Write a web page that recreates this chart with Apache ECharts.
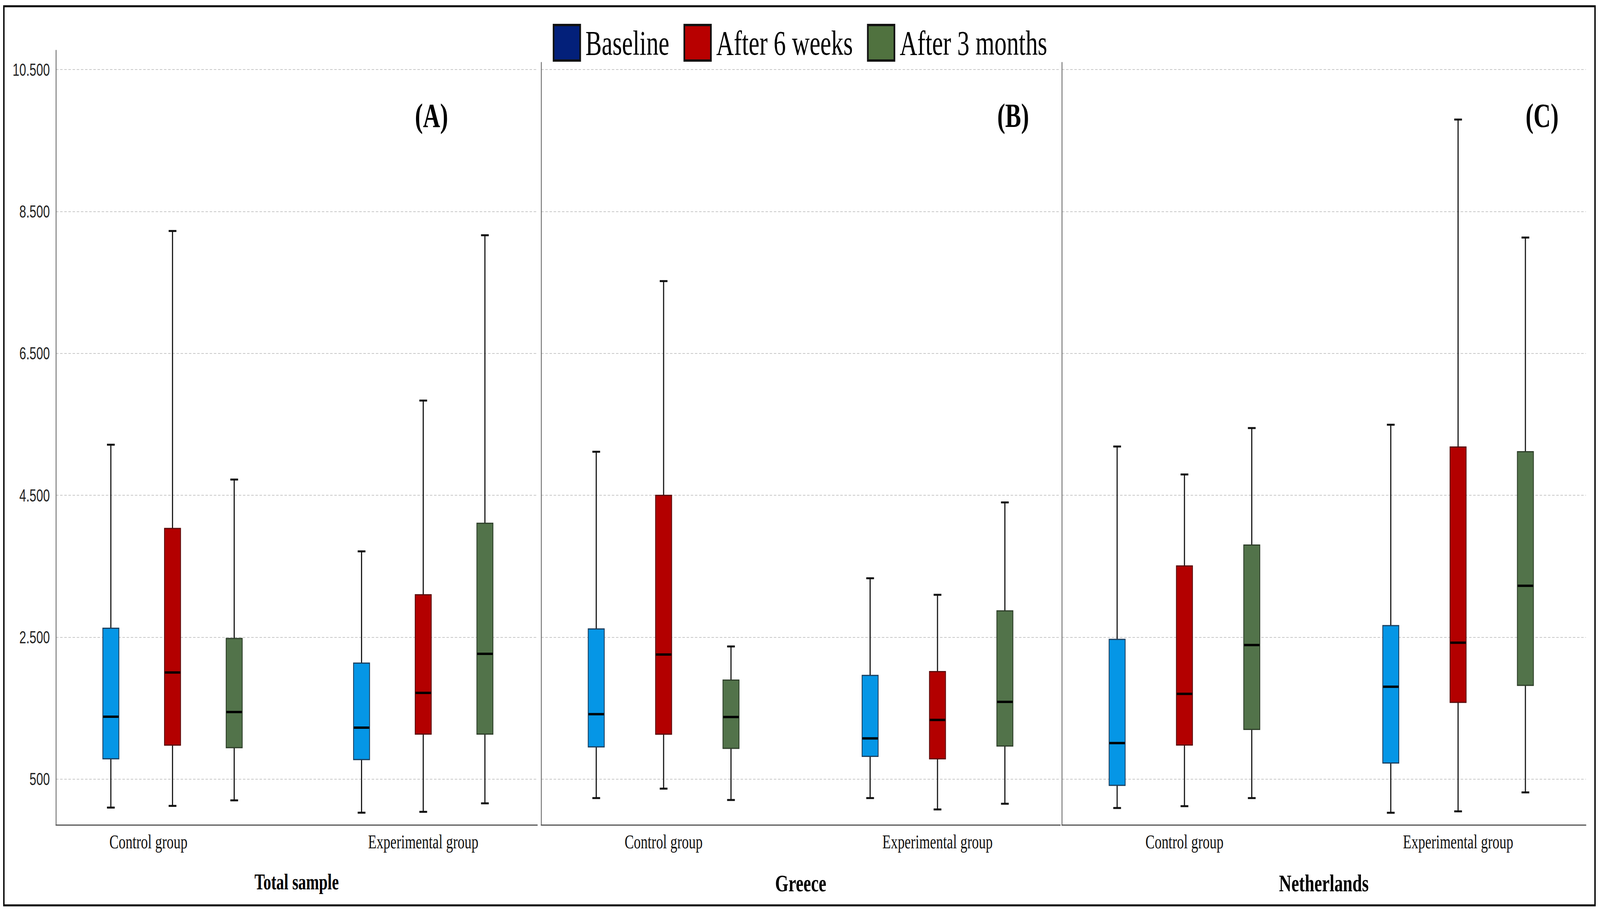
<!DOCTYPE html>
<html><head><meta charset="utf-8">
<script src="https://cdn.jsdelivr.net/npm/echarts@6/dist/echarts.min.js"></script>
<style>html,body{margin:0;padding:0;background:#fff;overflow:hidden}#c{position:absolute;left:0;top:0;width:5777px;height:2335px;transform-origin:0 0}</style>
</head><body><div id="c"></div>
<script>
const groups = ['Control group', 'Experimental group'];
const timePoints = ['Baseline', 'After 6 weeks', 'After 3 months'];
const panelTitles = ['Total sample', 'Greece', 'Netherlands'];
const panelTags = ['(A)', '(B)', '(C)'];
const yTicks = [500, 2500, 4500, 6500, 8500, 10500];
// each entry: [min, Q1, median, Q3, max] for Control group, Experimental group
const totalBaseline = [[99, 787, 1380, 2626, 5213], [27, 775, 1225, 2135, 3710]];
const total6Weeks   = [[123, 979, 2003, 4033, 8225], [39, 1135, 1716, 3099, 5835]];
const total3Months  = [[201, 943, 1446, 2482, 4722], [159, 1135, 2266, 4105, 8165]];
const greeceBaseline = [[233, 954, 1415, 2617, 5114], [233, 821, 1074, 1962, 3331]];
const greece6Weeks   = [[366, 1134, 2256, 4500, 7519], [73, 787, 1335, 2016, 3098]];
const greece3Months  = [[206, 934, 1375, 1896, 2370], [153, 967, 1589, 2871, 4400]];
const nlBaseline = [[93, 413, 1008, 2470, 5188], [26, 727, 1802, 2664, 5495]];
const nl6Weeks   = [[119, 981, 1702, 3505, 4794], [46, 1582, 2423, 5181, 9796]];
const nl3Months  = [[233, 1201, 2390, 3799, 5448], [313, 1822, 3225, 5114, 8133]];

const panelData = [
  [totalBaseline, total6Weeks, total3Months],
  [greeceBaseline, greece6Weeks, greece3Months],
  [nlBaseline, nl6Weeks, nl3Months]
];
const layout = [
  {left: 202, top: 129, width: 1738, height: 1983, xMin: -0.465, xMax: 1.455, yMax: 10770, tagX: 1558},
  {left: 1954, top: 160, width: 1874, height: 1952, xMin: -0.447, xMax: 1.448, yMax: 10600, tagX: 3658},
  {left: 3834, top: 160, width: 1892, height: 1952, xMin: -0.448, xMax: 1.467, yMax: 10600, tagX: 5568}
];
const legendColors = ['#03207a', '#b80000', '#50723f'];
const boxColors = ['#0596e6', '#b30000', '#52734a'];
const boxBorders = ['#1d3f5e', '#5a0a0a', '#2e3f2a'];
const OFF = [-0.246, 0, 0.246];
const BOXW = 58, CAPW = 28;
const W = 5777, H = 2335;

function fmt(v) {
  return String(v).replace(/\B(?=(\d{3})+(?!\d))/g, '.');
}

function makeRender(k) {
  return function (params, api) {
    const g = api.value(0);
    const xc = api.coord([g + OFF[k], api.value(3)])[0];
    const yLow = api.coord([g, api.value(1)])[1];
    const yQ1 = api.coord([g, api.value(2)])[1];
    const yMed = api.coord([g, api.value(3)])[1];
    const yQ3 = api.coord([g, api.value(4)])[1];
    const yHigh = api.coord([g, api.value(5)])[1];
    const ls = {stroke: '#111', lineWidth: 4};
    return {
      type: 'group',
      children: [
        {type: 'line', shape: {x1: xc, y1: yHigh, x2: xc, y2: yLow}, style: ls},
        {type: 'rect', shape: {x: xc - BOXW / 2, y: yQ3, width: BOXW, height: yQ1 - yQ3},
          style: {fill: boxColors[k], stroke: boxBorders[k], lineWidth: 3}},
        {type: 'line', shape: {x1: xc - BOXW / 2 + 1, y1: yMed, x2: xc + BOXW / 2 - 1, y2: yMed},
          style: {stroke: '#000', lineWidth: 6}},
        {type: 'line', shape: {x1: xc - CAPW / 2, y1: yHigh, x2: xc + CAPW / 2, y2: yHigh},
          style: {stroke: '#111', lineWidth: 5}},
        {type: 'line', shape: {x1: xc - CAPW / 2, y1: yLow, x2: xc + CAPW / 2, y2: yLow},
          style: {stroke: '#111', lineWidth: 5}}
      ]
    };
  };
}

const grids = [], xAxes = [], yAxes = [], series = [], graphics = [];
layout.forEach(function (L, p) {
  grids.push({left: L.left, top: L.top, width: L.width, height: L.height, containLabel: false});
  xAxes.push({
    gridIndex: p, type: 'value', min: L.xMin, max: L.xMax,
    axisLine: {show: true, onZero: false, lineStyle: {color: '#555', width: 3}},
    axisTick: {show: false},
    splitLine: {show: false},
    axisLabel: {
      customValues: [0, 1],
      margin: 18,
      fontFamily: 'Liberation Serif', fontSize: 50, color: '#111',
      formatter: function (v) {
        const name = groups[Math.round(v)];
        if (p === 0 && Math.round(v) === 0) return '{s|' + name + '}';
        return name;
      },
      rich: {s: {fontFamily: 'Liberation Serif', fontSize: 50, color: '#111', padding: [0, 174, 0, 0]}}
    },
    name: panelTitles[p], nameLocation: 'middle', nameGap: 118,
    nameTextStyle: {fontFamily: 'Liberation Serif', fontWeight: 'bold', fontSize: p === 0 ? 56 : 62, color: '#000'}
  });
  yAxes.push({
    gridIndex: p, type: 'value', min: -145, max: L.yMax,
    axisLine: {show: true, onZero: false, lineStyle: {color: '#666', width: 3}},
    axisTick: {show: false, customValues: yTicks},
    axisLabel: {show: p === 0, customValues: yTicks, formatter: fmt, margin: 22,
      fontFamily: 'Liberation Sans', fontSize: 44, color: '#222'},
    splitLine: {show: true, lineStyle: {color: '#c8c8c8', width: 2, type: [9, 6]}}
  });
  panelData[p].forEach(function (arr, k) {
    series.push({
      type: 'custom', name: timePoints[k], xAxisIndex: p, yAxisIndex: p,
      itemStyle: {color: legendColors[k]},
      renderItem: makeRender(k),
      encode: {x: 0, y: [1, 2, 3, 4, 5]},
      data: arr.map(function (d, i) { return [i].concat(d); }),
      clip: false
    });
  });
  graphics.push({type: 'text', x: L.tagX, y: 296,
    style: {text: panelTags[p], fontFamily: 'Liberation Serif', fontWeight: 'bold', fontSize: 86,
      fill: '#000', textAlign: 'center', textVerticalAlign: 'middle'}});
});
graphics.push({type: 'rect', shape: {x: 14, y: 16, width: 5745, height: 2302},
  style: {fill: 'none', stroke: '#000', lineWidth: 5}, z: 100});

const el = document.getElementById('c');
const vw = window.innerWidth || W, vh = window.innerHeight || H;
el.style.transform = 'scale(' + (vw / W) + ',' + (vh / H) + ')';

const chart = echarts.init(el, null, {renderer: 'svg', width: W, height: H});
chart.setOption({
  animation: false,
  backgroundColor: '#fff',
  legend: {
    top: 56, left: 'center', itemWidth: 96, itemHeight: 91, itemGap: 51, icon: 'rect',
    selectedMode: false,
    data: timePoints.map(function (n, i) {
      return {name: n, itemStyle: {color: legendColors[i], borderColor: '#111', borderWidth: 6}};
    }),
    textStyle: {fontFamily: 'Liberation Serif', fontSize: 88, color: '#000', padding: [0, 0, 0, 14]}
  },
  grid: grids, xAxis: xAxes, yAxis: yAxes, series: series, graphic: graphics
});
</script></body></html>
